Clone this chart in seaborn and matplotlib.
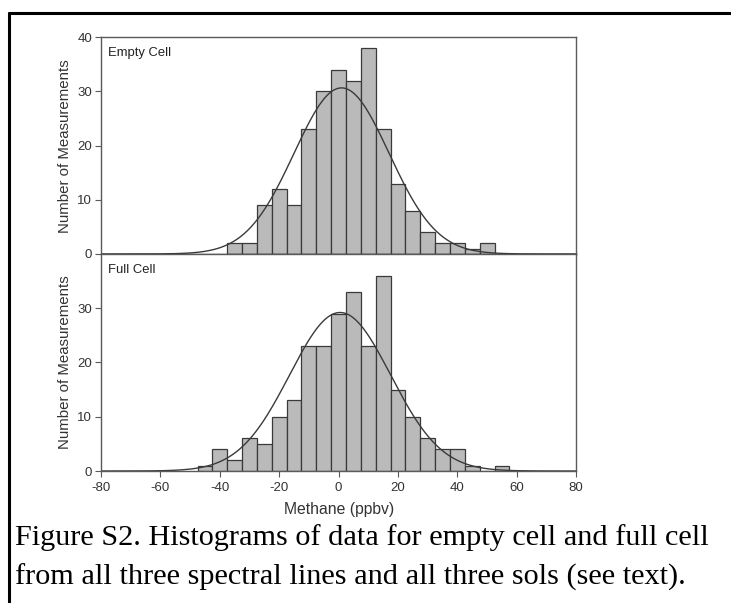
import numpy as np
import pandas as pd
import matplotlib
matplotlib.use("Agg")
import matplotlib.pyplot as plt
import seaborn as sns

# bin centres (ppbv), bin width 5
empty_centers = [-35, -30, -25, -20, -15, -10, -5, 0, 5, 10, 15, 20, 25, 30, 35, 40, 45, 50]
empty_counts = [2, 2, 9, 12, 9, 23, 30, 34, 32, 38, 23, 13, 8, 4, 2, 2, 1, 2]

full_centers = [-45, -40, -35, -30, -25, -20, -15, -10, -5, 0, 5, 10, 15, 20, 25, 30, 35, 40, 45, 50, 55]
full_counts = [1, 4, 2, 6, 5, 10, 13, 23, 23, 29, 33, 23, 36, 15, 10, 6, 4, 4, 1, 0, 1]

# gaussian fits
empty_fit = {"mean": 1.0, "sd": 16.0}
full_fit = {"mean": 0.5, "sd": 17.0}

bin_width = 5
x_ticks = [-80, -60, -40, -20, 0, 20, 40, 60, 80]

sns.set_style("ticks")
plt.rcParams["font.family"] = ["Liberation Sans", "DejaVu Sans"]
plt.rcParams["axes.unicode_minus"] = False

fig = plt.figure(figsize=(7.31, 6.03), dpi=100)
ax_top = fig.add_axes([0.1382, 0.5788, 0.650, 0.3593])
ax_bot = fig.add_axes([0.1382, 0.2189, 0.650, 0.3599])

bar_color = "#bababa"
edge_color = "#3a3a3a"
frame_color = "#5a5a5a"


def draw_panel(ax, centers, counts, fit, label, yticks):
    df = pd.DataFrame({"methane": centers, "n": counts})
    sns.histplot(data=df, x="methane", weights="n", binwidth=bin_width,
                 binrange=(min(centers) - bin_width / 2, max(centers) + bin_width / 2),
                 color=bar_color, edgecolor=edge_color, linewidth=0.9, alpha=1.0, ax=ax)
    # fitted normal curve scaled to the counts
    xs = np.linspace(-80, 80, 400)
    total = sum(counts)
    ys = total * bin_width / (fit["sd"] * np.sqrt(2 * np.pi)) * np.exp(-(xs - fit["mean"]) ** 2 / (2 * fit["sd"] ** 2))
    sns.lineplot(x=xs, y=ys, color="#3a3a3a", linewidth=1.0, ax=ax)
    ax.set_xlim(-80, 80)
    ax.set_ylim(0, 40)
    ax.set_yticks(yticks)
    ax.set_ylabel("Number of Measurements", fontsize=10.8, color="#333333", labelpad=4)
    ax.text(0.014, 0.955, label, transform=ax.transAxes, fontsize=9.4,
            ha="left", va="top", color="#222222")
    for s in ax.spines.values():
        s.set_color(frame_color)
        s.set_linewidth(1.0)
        s.set_visible(True)
    ax.tick_params(axis="both", direction="out", length=4, width=0.8,
                   color=frame_color, labelsize=9.5, labelcolor="#333333", pad=2.5)


draw_panel(ax_top, empty_centers, empty_counts, empty_fit, "Empty Cell", [0, 10, 20, 30, 40])
draw_panel(ax_bot, full_centers, full_counts, full_fit, "Full Cell", [0, 10, 20, 30])

ax_top.set_xticks(x_ticks)
ax_top.tick_params(axis="x", length=0, labelbottom=False)
ax_top.set_xlabel("")
ax_top.spines["bottom"].set_color("#222222")
ax_bot.set_xticks(x_ticks)
ax_bot.tick_params(axis="x", pad=4)
ax_bot.set_xlabel("Methane (ppbv)", fontsize=11.3, color="#333333", labelpad=6)

# caption and outer frame
fig.text(0.021, 0.108, "Figure S2. Histograms of data for empty cell and full cell",
         family=["Liberation Serif", "DejaVu Serif"], fontsize=21.8, color="black", va="center")
fig.text(0.021, 0.043, "from all three spectral lines and all three sols (see text).",
         family=["Liberation Serif", "DejaVu Serif"], fontsize=21.8, color="black", va="center")
fig.add_artist(plt.Line2D([0.0125, 1.0], [0.979, 0.979], transform=fig.transFigure, color="black", linewidth=2.2))
fig.add_artist(plt.Line2D([0.0125, 0.0125], [0.0, 0.979], transform=fig.transFigure, color="black", linewidth=2.2))

fig.savefig("out.png", dpi=100)
